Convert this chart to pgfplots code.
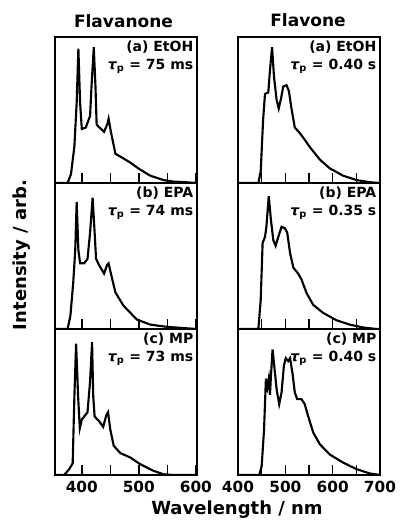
\documentclass[border=0pt]{standalone}
\usepackage{fontspec}
\setmainfont{DejaVu Sans}
\usepackage{pgfplots}
\pgfplotsset{compat=1.18}

\pgfplotsset{
  panel/.style={
    scale only axis, width=106.5pt, height=109.5pt,
    anchor=north west,
    ymin=0, ymax=100, ytick=\empty,
    axis line style={line width=1.1pt},
    xtick align=inside, xtick pos=bottom,
    major tick length=7.5pt, minor tick length=7.5pt,
    every tick/.style={line width=1.1pt, black},
    every minor tick/.style={line width=1.1pt, black},
    /pgf/number format/assume math mode=true,
    xticklabel style={font=\fontsize{11.5}{12}\selectfont\bfseries, yshift=-1pt},
  },
  leftp/.style={xmin=353, xmax=602, xtick={400,500,600}, minor xtick={450,550}},
  rightp/.style={xmin=400, xmax=700, xtick={400,500,600,700}, minor xtick={450,550,650}},
  nolab/.style={xticklabels={}},
}
\tikzset{
  spec/.style={line width=1.6pt, black},
  note/.style={anchor=north east, align=right, inner sep=1pt,
    font=\fontsize{10.5}{13.5}\selectfont\bfseries},
}

\begin{document}
\begin{tikzpicture}
\useasboundingbox (0,0) rectangle (300pt,393.75pt);

% ---------- Flavanone ----------
\begin{axis}[panel, leftp, nolab, at={(41.25pt,366pt)}]
\addplot[spec, no marks] coordinates {
(353,0) (375,0) (381,6) (387,25) (391,55) (394,92) (397,55) (400,37) (407,38)
(414.5,46) (417,66) (421,93) (424,66) (426,40) (431,38) (439,35) (444.5,40)
(447,44) (451,35) (459,20) (468,18) (485,14) (499,10) (520,5) (543,2)
(560,1) (583,0.5) (602,0)
};
\node[note] at (rel axis cs:0.985,0.985) {(a) EtOH\\{\itshape τ}\textsubscript{p} = 75 ms};
\end{axis}

\begin{axis}[panel, leftp, nolab, at={(41.25pt,256.5pt)}]
\addplot[spec, no marks] coordinates {
(353,0) (375,0) (380,9) (385,32) (388.5,54) (391,87) (394,54) (397,45) (404,45)
(410,48) (414.5,66) (419,90) (422.5,66) (425,48) (430,44) (439,38) (444.5,44)
(447,45) (451,38) (459,25) (473,16) (496.5,6.5) (520,3) (548.5,1.5)
(583,0.5) (602,0)
};
\node[note] at (rel axis cs:0.985,0.985) {(b) EPA\\{\itshape τ}\textsubscript{p} = 74 ms};
\end{axis}

\begin{axis}[panel, leftp, at={(41.25pt,147pt)}]
\addplot[spec, no marks] coordinates {
(353,0) (369,0) (378,4) (384,8) (387,54) (390,90) (393.5,54) (396.5,32) (400,38)
(410,43) (414.5,64) (418,91) (420,54) (422.5,40) (430,37) (437.5,33) (443,41)
(446,43) (450,31) (456,20) (467.5,15) (485,12) (502,7.5) (525,3) (543,0.5)
(560,0) (602,0)
};
\node[note] at (rel axis cs:0.985,0.985) {(c) MP\\{\itshape τ}\textsubscript{p} = 73 ms};
\end{axis}

% ---------- Flavone ----------
\begin{axis}[panel, rightp, nolab, at={(178.5pt,366pt)}]
\addplot[spec, no marks] coordinates {
(400,0) (443,0) (448,8) (453,43) (457,61) (464,62) (467,75) (472,93) (476,73)
(481.5,57) (486,51) (491,58) (495.5,66) (502.5,67) (507.5,63) (513,51)
(520,38) (531,34) (538,31) (552,24.5) (573,16) (594,10) (622,5) (650.5,2)
(679,0.5) (700,0)
};
\node[note] at (rel axis cs:0.985,0.985) {(a) EtOH\\{\itshape τ}\textsubscript{p} = 0.40 s};
\end{axis}

\begin{axis}[panel, rightp, nolab, at={(178.5pt,256.5pt)}]
\addplot[spec, no marks] coordinates {
(400,0) (443,0) (448,20) (452,59) (457,63) (460,70) (465,91) (469.5,75)
(474.5,61) (479.5,57) (485,63) (492,70) (499,69) (504,66) (510,52) (517,42)
(527,38) (534,34) (545,24.5) (559,16.5) (580,11) (608,6) (636,3) (665,1)
(693,0) (700,0)
};
\node[note] at (rel axis cs:0.985,0.985) {(b) EPA\\{\itshape τ}\textsubscript{p} = 0.35 s};
\end{axis}

\begin{axis}[panel, rightp, at={(178.5pt,147pt)}]
\addplot[spec, no marks] coordinates {
(400,0) (445,0) (450,6) (455,31) (459,66) (462,60) (465,66) (467.5,55) (470,70)
(473,86) (476.5,75) (481.5,59) (487,48.5) (492,56.5) (497,75) (501,80)
(506,78) (510,80) (515,70) (520,56.5) (525,52) (534,52) (541,48.5)
(548,40.5) (559,29) (573,21) (594,14) (622,8.5) (650.5,4) (679,1) (700,0)
};
\node[note] at (rel axis cs:0.985,0.985) {(c) MP\\{\itshape τ}\textsubscript{p} = 0.40 s};
\end{axis}

% ---------- titles and labels ----------
\node[font=\fontsize{12.75}{14}\selectfont\bfseries] at (92.6pt,378pt) {Flavanone};
\node[font=\fontsize{12.75}{14}\selectfont\bfseries] at (231pt,378.75pt) {Flavone};
\node[font=\fontsize{13.5}{15}\selectfont\bfseries, rotate=90] at (16.5pt,202.5pt) {Intensity / arb.};
\node[font=\fontsize{13.5}{15}\selectfont\bfseries] at (177.75pt,11.25pt) {Wavelength / nm};
\end{tikzpicture}
\end{document}
